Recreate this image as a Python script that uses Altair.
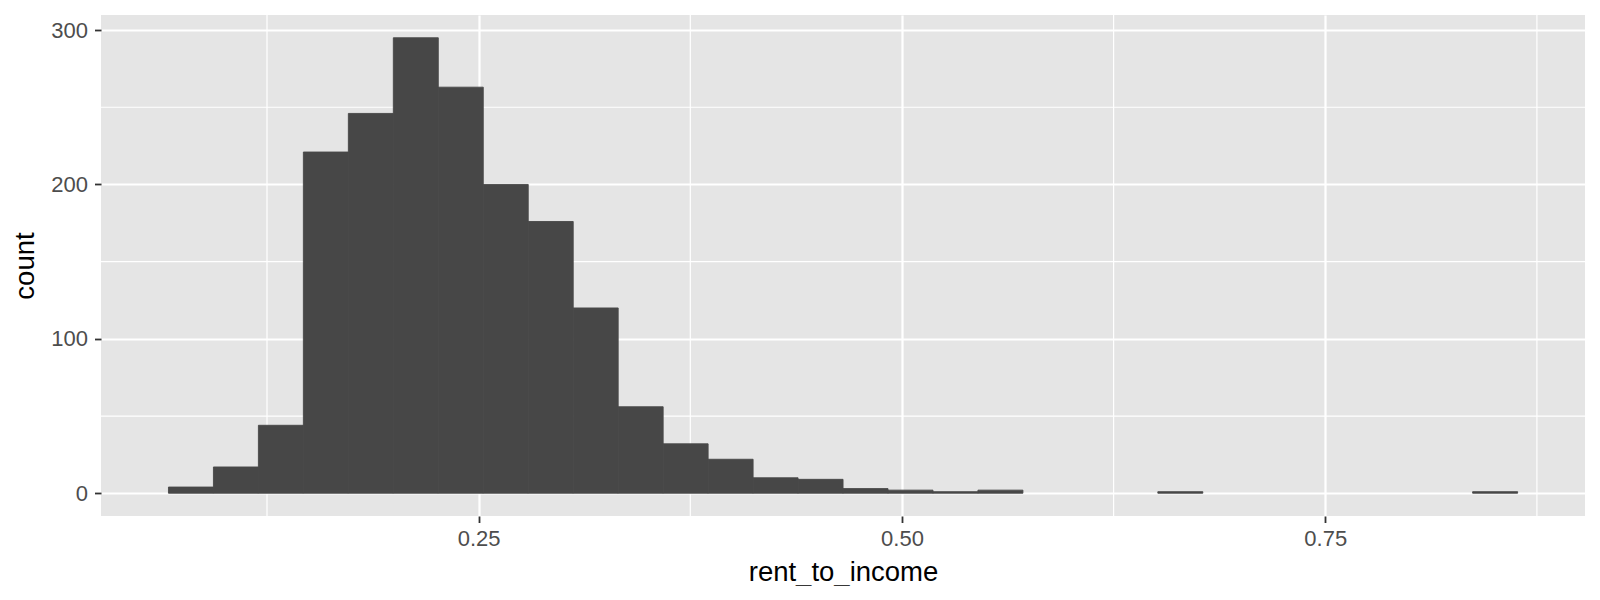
import altair as alt
import pandas as pd

# Histogram of rent_to_income (30 bins), counts
COUNTS = [4, 17, 44, 221, 246, 295, 263, 200, 176, 120,
          56, 32, 22, 10, 9, 3, 2, 1, 2, 0,
          0, 0, 1, 0, 0, 0, 0, 0, 0, 1]
BIN_START = 0.0668
BIN_WIDTH = 0.02656

X_TICKS = [0.25, 0.50, 0.75]
X_MINOR = [0.125, 0.375, 0.625, 0.875]
Y_TICKS = [0, 100, 200, 300]
Y_MINOR = [50, 150, 250]

X_DOMAIN = [0.02696, 0.9034]
Y_DOMAIN = [-14.75, 309.75]

FONT = "Liberation Sans"

bars = pd.DataFrame({
    "lo": [BIN_START + i * BIN_WIDTH for i in range(len(COUNTS))],
    "hi": [BIN_START + (i + 1) * BIN_WIDTH for i in range(len(COUNTS))],
    "count": COUNTS,
})
bars = bars[bars["count"] > 0]

xscale = alt.Scale(domain=X_DOMAIN, nice=False, zero=False)
yscale = alt.Scale(domain=Y_DOMAIN, nice=False, zero=False)

xaxis = alt.Axis(values=X_TICKS, format=".2f", title="rent_to_income",
                 labelFontSize=22, labelColor="#4D4D4D", labelPadding=6,
                 tickSize=6.5, tickColor="#333333", tickWidth=1.8,
                 domain=False, grid=True, gridColor="white", gridWidth=2.2,
                 titleFontSize=27.5, titleFontWeight="normal", titleColor="black",
                 titlePadding=9, labelFont=FONT, titleFont=FONT)
yaxis = alt.Axis(values=Y_TICKS, title="count",
                 labelFontSize=22, labelColor="#4D4D4D", labelPadding=7,
                 tickSize=6.5, tickColor="#333333", tickWidth=1.8,
                 domain=False, grid=True, gridColor="white", gridWidth=2.2,
                 titleFontSize=27.5, titleFontWeight="normal", titleColor="black",
                 titlePadding=11, labelFont=FONT, titleFont=FONT)

hist = alt.Chart(bars).mark_rect(
    color="#474747", stroke="#474747", strokeWidth=0.9
).encode(
    x=alt.X("lo:Q", scale=xscale, axis=xaxis),
    x2="hi:Q",
    y=alt.Y("count:Q", scale=yscale, axis=yaxis),
    y2=alt.datum(0),
)

minor_x = alt.Chart(pd.DataFrame({"v": X_MINOR})).mark_rule(
    color="white", strokeWidth=1.2
).encode(x=alt.X("v:Q", scale=xscale, axis=xaxis))

minor_y = alt.Chart(pd.DataFrame({"v": Y_MINOR})).mark_rule(
    color="white", strokeWidth=1.2
).encode(y=alt.Y("v:Q", scale=yscale, axis=yaxis))

chart = alt.layer(minor_x, minor_y, hist).properties(
    width=1484, height=501,
    autosize=alt.AutoSizeParams(type="none"),
    padding={"left": 93, "top": 7, "right": 7, "bottom": 70},
).configure_view(
    fill="#E5E5E5", stroke=None
)

chart.save("out.html", embed_options={"renderer": "svg", "actions": False})
